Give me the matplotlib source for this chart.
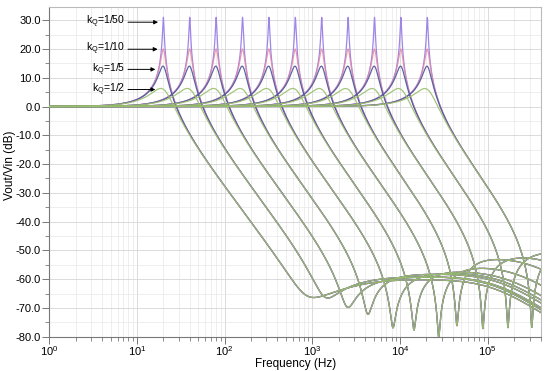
import numpy as np
import matplotlib
matplotlib.use("Agg")
import matplotlib.pyplot as plt
from matplotlib.ticker import MultipleLocator, LogLocator, NullFormatter, FuncFormatter

# ---- data ----
f0_hz = [20, 40, 80, 160, 320, 640, 1280, 2560, 5120, 10240, 20480]          # resonance frequencies
kq_labels = ["1/50", "1/10", "1/5", "1/2"]
peak_db = [31.0, 20.0, 14.0, 6.0]                                             # peak heights per kQ
notch_hz = [861, 1393, 2500, 4280, 8300, 14400, 27600, 44500, 88000, 170000, 318000]
notch_db = [-66.4, -66.7, -69.9, -72.0, -76.7, -76.9, -79.8, -75.5, -76.7, -76.7, -76.3]
plateau_db = [-60, -59, -59, -58, -57.5, -57, -55, -52, -51, -49, -48]
pole_hz = [1.1e5, 1.1e5, 1.2e5, 1.3e5, 1.4e5, 1.6e5, 2e5, 3e5, 5e5, 1e6, 1e6]

colors = ["#9a7fe8", "#e58aa2", "#4a559c", "#9cbf6e"]
alphas = [0.95, 0.85, 0.9, 0.9]

plt.rcParams['font.family'] = ['Liberation Sans', 'DejaVu Sans']
fig = plt.figure(figsize=(5.5, 3.71), dpi=100)
ax = fig.add_axes([0.0896, 0.0925, 0.894, 0.888])

f = np.logspace(0, np.log10(4.05e5), 6000)
for qi, pk in enumerate(peak_db):
    Q = 10 ** (pk / 20.0)
    for k, f0 in enumerate(f0_hz):
        w = f / f0
        lp = 1.0 / (1 - w ** 2 + 1j * w / Q)
        fz = notch_hz[k]
        base = (f0 / fz) ** 2
        qz = base / 10 ** (notch_db[k] / 20.0)
        x = f / fz
        num = 1 - x ** 2 + 1j * x / qz
        ratio = 10 ** (plateau_db[k] / 20.0) / base
        fa = 2.0 * fz
        fb = fa * ratio
        shelf = (1 + 1j * f / fa) / (1 + 1j * f / fb)
        pole = 1.0 / (1 + 1j * f / pole_hz[k])
        h = lp * num * shelf * pole
        ax.semilogx(f, 20 * np.log10(np.abs(h)), color=colors[qi], lw=0.9,
                    alpha=alphas[qi], zorder=3 + qi)

ax.set_xscale('log')
ax.set_xlim(1, 4.05e5)
ax.set_ylim(-80, 34.5)
ax.yaxis.set_major_locator(MultipleLocator(10))
ax.yaxis.set_minor_locator(MultipleLocator(5))
ax.yaxis.set_major_formatter(FuncFormatter(lambda v, p: f"{v:.1f}"))
ax.xaxis.set_major_locator(LogLocator(base=10, numticks=20))
ax.xaxis.set_minor_locator(LogLocator(base=10, subs=np.arange(2, 10), numticks=20))
ax.xaxis.set_minor_formatter(NullFormatter())

ax.grid(which='major', color='#d6d6d6', lw=0.6, zorder=0)
ax.grid(which='minor', color='#e8e8e8', lw=0.5, zorder=0)
ax.set_axisbelow(True)

ax.tick_params(which='major', length=5, width=0.7, color='#777777', labelsize=8, pad=1)
ax.tick_params(axis='x', which='major', pad=0.5)
ax.tick_params(which='minor', length=3, width=0.6, color='#777777')
for s in ['left', 'bottom']:
    ax.spines[s].set_color('#777777')
    ax.spines[s].set_linewidth(0.8)
for s in ['top', 'right']:
    ax.spines[s].set_color('#bbbbbb')
    ax.spines[s].set_linewidth(0.8)

ax.set_xlabel("Frequency (Hz)", fontsize=8.5, va='center')
ax.xaxis.set_label_coords(0.5, -0.084)
ax.set_ylabel("Vout/Vin (dB)", fontsize=8.5, va='center')
ax.yaxis.set_label_coords(-0.08, 0.52)

ann_y = [29.3, 19.9, 12.9, 5.9]
arrow_end = [17.4, 17.2, 16.2, 16.2]
for lab, yv, xe in zip(kq_labels, ann_y, arrow_end):
    ax.text(7.3, yv, r"k$_\mathregular{Q}$=" + lab, fontsize=7.5, ha='right', va='center', zorder=10)
    ax.annotate("", xy=(xe, yv), xytext=(7.9, yv),
                arrowprops=dict(arrowstyle='-|>', color='black', lw=0.7,
                                mutation_scale=6, shrinkA=0, shrinkB=0), zorder=10)

fig.savefig("out.png", dpi=100)
